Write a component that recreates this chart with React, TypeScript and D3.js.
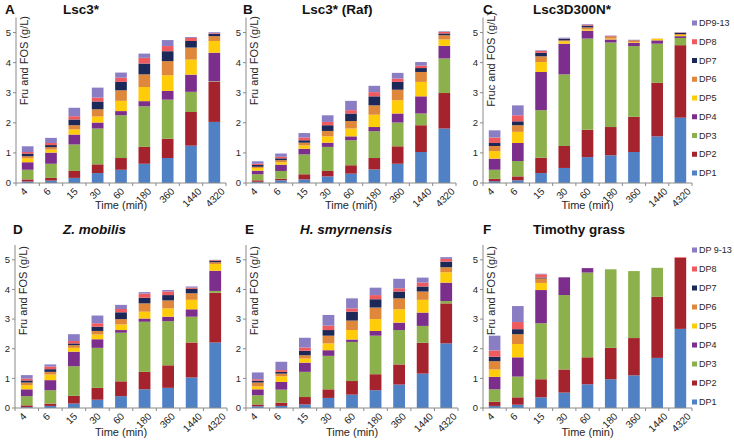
import React from 'react';
import * as d3 from 'd3';

// categories and series
const times = ['4', '6', '15', '30', '60', '180', '360', '1440', '4320'];
const seriesKeys = ['DP1', 'DP2', 'DP3', 'DP4', 'DP5', 'DP6', 'DP7', 'DP8', 'DP9-13'];
const legendLabelsC = ['DP1', 'DP2', 'DP3', 'DP4', 'DP5', 'DP6', 'DP7', 'DP8', 'DP9-13'];
const legendLabelsF = ['DP1', 'DP2', 'DP3', 'DP4', 'DP5', 'DP6', 'DP7', 'DP8', 'DP 9-13'];
const seriesColors = ['#4f81c4', '#a5232d', '#8cb04b', '#7b2e8c', '#ffcc0a', '#df883c', '#1c2857', '#ef5a5e', '#8a7dc4'];
const yTicks = [0, 1, 2, 3, 4, 5];

// g/L per series (rows DP1..DP9-13), per time point (columns)
const lsc3 = [
  [0.05, 0.08, 0.17, 0.33, 0.44, 0.64, 0.83, 1.24, 2.03],
  [0.07, 0.09, 0.23, 0.29, 0.39, 0.56, 0.64, 1.12, 1.33],
  [0.32, 0.47, 0.88, 1.19, 1.42, 1.35, 1.30, 0.67, 0.02],
  [0.25, 0.37, 0.33, 0.20, 0.14, 0.17, 0.29, 0.57, 0.95],
  [0.13, 0.10, 0.17, 0.20, 0.34, 0.47, 0.52, 0.50, 0.39],
  [0.07, 0.08, 0.14, 0.24, 0.35, 0.42, 0.47, 0.40, 0.16],
  [0.09, 0.07, 0.19, 0.26, 0.28, 0.36, 0.33, 0.22, 0.08],
  [0.05, 0.07, 0.11, 0.13, 0.14, 0.19, 0.17, 0.10, 0.02],
  [0.19, 0.17, 0.28, 0.33, 0.17, 0.14, 0.20, 0.03, 0.03],
];

const lsc3Raf = [
  [0.04, 0.09, 0.12, 0.22, 0.31, 0.45, 0.64, 1.03, 1.81],
  [0.05, 0.05, 0.17, 0.18, 0.28, 0.38, 0.58, 0.89, 1.18],
  [0.20, 0.26, 0.66, 0.80, 0.83, 0.89, 0.79, 0.39, 1.15],
  [0.12, 0.21, 0.19, 0.14, 0.13, 0.14, 0.30, 0.57, 0.42],
  [0.09, 0.08, 0.11, 0.21, 0.26, 0.41, 0.44, 0.48, 0.21],
  [0.04, 0.07, 0.09, 0.18, 0.25, 0.31, 0.35, 0.33, 0.14],
  [0.06, 0.06, 0.08, 0.19, 0.25, 0.30, 0.26, 0.13, 0.06],
  [0.04, 0.05, 0.09, 0.11, 0.11, 0.14, 0.11, 0.08, 0.05],
  [0.08, 0.11, 0.15, 0.22, 0.31, 0.21, 0.19, 0.12, 0.02],
];

const lsc3D300N = [
  [0.06, 0.09, 0.33, 0.50, 0.86, 0.92, 1.03, 1.55, 2.17],
  [0.08, 0.13, 0.51, 0.73, 0.91, 0.94, 1.17, 1.78, 2.41],
  [0.30, 0.51, 1.58, 2.38, 3.03, 2.81, 2.35, 1.30, 0.24],
  [0.37, 0.60, 1.27, 1.02, 0.26, 0.10, 0.11, 0.11, 0.06],
  [0.25, 0.37, 0.33, 0.08, 0.04, 0.03, 0.02, 0.05, 0.04],
  [0.17, 0.22, 0.19, 0.03, 0.07, 0.06, 0.05, 0.01, 0.03],
  [0.10, 0.13, 0.12, 0.05, 0.06, 0.01, 0.01, 0.00, 0.04],
  [0.18, 0.20, 0.06, 0.01, 0.03, 0.02, 0.01, 0.00, 0.01],
  [0.24, 0.33, 0.02, 0.03, 0.02, 0.01, 0.01, 0.00, 0.01],
];

const zMobilis = [
  [0.03, 0.07, 0.15, 0.28, 0.40, 0.63, 0.68, 1.03, 2.21],
  [0.06, 0.08, 0.26, 0.40, 0.50, 0.59, 0.76, 1.18, 1.68],
  [0.31, 0.45, 1.00, 1.35, 1.64, 1.69, 1.49, 0.87, 0.06],
  [0.23, 0.34, 0.49, 0.29, 0.09, 0.11, 0.15, 0.25, 0.68],
  [0.14, 0.19, 0.13, 0.16, 0.19, 0.23, 0.28, 0.32, 0.23],
  [0.09, 0.09, 0.09, 0.12, 0.18, 0.28, 0.27, 0.22, 0.06],
  [0.07, 0.09, 0.06, 0.14, 0.23, 0.19, 0.18, 0.15, 0.05],
  [0.06, 0.09, 0.08, 0.12, 0.11, 0.14, 0.12, 0.04, 0.02],
  [0.12, 0.07, 0.23, 0.26, 0.14, 0.05, 0.05, 0.04, 0.01],
];

const hSmyrnensis = [
  [0.06, 0.07, 0.12, 0.34, 0.45, 0.60, 0.79, 1.16, 2.18],
  [0.06, 0.11, 0.25, 0.29, 0.46, 0.54, 0.68, 1.04, 1.35],
  [0.31, 0.44, 0.85, 1.13, 1.32, 1.30, 1.16, 0.57, 0.08],
  [0.20, 0.26, 0.31, 0.19, 0.08, 0.16, 0.25, 0.45, 0.62],
  [0.10, 0.19, 0.14, 0.23, 0.32, 0.40, 0.45, 0.43, 0.35],
  [0.13, 0.09, 0.11, 0.26, 0.32, 0.39, 0.37, 0.28, 0.17],
  [0.06, 0.06, 0.15, 0.19, 0.30, 0.28, 0.23, 0.17, 0.19],
  [0.05, 0.06, 0.11, 0.15, 0.11, 0.14, 0.11, 0.13, 0.09],
  [0.23, 0.28, 0.33, 0.36, 0.34, 0.25, 0.32, 0.17, 0.06],
];

const timothyGrass = [
  [0.07, 0.11, 0.36, 0.52, 0.80, 0.97, 1.10, 1.69, 2.67],
  [0.14, 0.25, 0.61, 0.78, 0.91, 1.06, 1.26, 2.06, 2.40],
  [0.42, 0.70, 1.89, 2.51, 2.86, 2.65, 2.26, 0.98, 0.00],
  [0.42, 0.65, 1.12, 0.60, 0.15, 0.00, 0.00, 0.00, 0.00],
  [0.25, 0.45, 0.24, 0.00, 0.00, 0.00, 0.00, 0.00, 0.00],
  [0.28, 0.33, 0.15, 0.00, 0.00, 0.00, 0.00, 0.00, 0.00],
  [0.15, 0.17, 0.03, 0.00, 0.00, 0.00, 0.00, 0.00, 0.00],
  [0.21, 0.24, 0.11, 0.00, 0.00, 0.00, 0.00, 0.00, 0.02],
  [0.50, 0.54, 0.02, 0.00, 0.00, 0.00, 0.00, 0.00, 0.00],
];

const FONT = '"Liberation Sans", Arial, sans-serif';
const AXIS = '#8a8a8a';
const TXT = '#262626';

type PanelDef = {
  data: number[][];
  letter: string;
  title: string;
  italic?: boolean;
  yLabel: string;
  x0: number;
  w: number;
  base: number;
  top: number;
  letterX: number;
  titleX: number;
  titleY: number;
  labelEnd: number;
  timeY: number;
  legend?: { labels: string[]; y0: number; gap: number };
};

const panels: PanelDef[] = [
  { data: lsc3, letter: 'A', title: 'Lsc3*', yLabel: 'Fru and FOS (g/L)', x0: 16, w: 210, base: 183, top: 17.5, letterX: 5, titleX: 63, titleY: 14, labelEnd: 16, timeY: 209 },
  { data: lsc3Raf, letter: 'B', title: 'Lsc3* (Raf)', yLabel: 'Fru and FOS (g/L)', x0: 246, w: 210, base: 183, top: 17.5, letterX: 243, titleX: 302, titleY: 14, labelEnd: 16, timeY: 209 },
  { data: lsc3D300N, letter: 'C', title: 'Lsc3D300N*', yLabel: 'Fruc and FOS (g/L)', x0: 483, w: 209, base: 183, top: 17.5, letterX: 483, titleX: 533, titleY: 14, labelEnd: 12, timeY: 209,
    legend: { labels: legendLabelsC, y0: 173, gap: 18.75 } },
  { data: zMobilis, letter: 'D', title: 'Z. mobilis', italic: true, yLabel: 'Fru and FOS (g/L)', x0: 15, w: 212, base: 408, top: 245, letterX: 13, titleX: 63, titleY: 234, labelEnd: 246, timeY: 436 },
  { data: hSmyrnensis, letter: 'E', title: 'H. smyrnensis', italic: true, yLabel: 'Fru and FOS (g/L)', x0: 246, w: 212, base: 408, top: 245, letterX: 245, titleX: 300, titleY: 234, labelEnd: 246, timeY: 436 },
  { data: timothyGrass, letter: 'F', title: 'Timothy grass', yLabel: 'Fru and FOS (g/L)', x0: 483, w: 209, base: 408, top: 245, letterX: 483, titleX: 533, titleY: 234, labelEnd: 246, timeY: 436,
    legend: { labels: legendLabelsF, y0: 402, gap: 19 } },
];

function Panel({ p }: { p: PanelDef }) {
  const x = d3.scaleBand<string>().domain(times).range([p.x0, p.x0 + p.w]).paddingInner(0.5).paddingOuter(0.25);
  const y = d3.scaleLinear().domain([0, 5.5]).range([p.base, p.top]);
  const step = x.step();

  const rows = times.map((t, i) => {
    const r: any = { time: t };
    seriesKeys.forEach((k, s) => (r[k] = p.data[s][i]));
    return r;
  });
  const stacked = d3.stack<any>().keys(seriesKeys)(rows);

  return (
    <g>
      {/* bars */}
      {stacked.map((layer, s) => (
        <g key={layer.key} fill={seriesColors[s]}>
          {layer.map((d, i) => {
            const h = y(d[0]) - y(d[1]);
            if (h <= 0) return null;
            return <rect key={i} x={x(times[i])} y={y(d[1])} width={x.bandwidth()} height={h} />;
          })}
        </g>
      ))}

      {/* y axis */}
      <line x1={p.x0} x2={p.x0} y1={p.base} y2={p.top} stroke={AXIS} />
      {yTicks.map((t) => (
        <g key={t}>
          <line x1={p.x0 - 3} x2={p.x0} y1={y(t)} y2={y(t)} stroke={AXIS} />
          <text x={p.x0 - 5} y={y(t)} dy="0.35em" textAnchor="end" fontSize={9.5} fill={TXT}>{t}</text>
        </g>
      ))}

      {/* x axis */}
      <line x1={p.x0} x2={p.x0 + p.w} y1={p.base} y2={p.base} stroke={AXIS} />
      {d3.range(times.length + 1).map((i) => (
        <line key={i} x1={p.x0 + i * step} x2={p.x0 + i * step} y1={p.base} y2={p.base + 3} stroke={AXIS} />
      ))}
      {times.map((t) => {
        const cx = (x(t) as number) + x.bandwidth() / 2;
        const w = t.length * 5.6;
        const lx = cx + (t.length - 3.5) * 1.6;
        const ly = p.base + 4 + (w + 7) * 0.354;
        return (
          <g key={t} transform={`translate(${lx},${ly})`}>
            <text transform="rotate(-45)" textAnchor="middle" dy="0.35em" fontSize={10} fill={TXT}>{t}</text>
          </g>
        );
      })}
      <text x={p.x0 + p.w / 2} y={p.timeY} textAnchor="middle" fontSize={11} fill={TXT}>Time (min)</text>

      {/* y label */}
      <text transform={`translate(${p.x0 + 12},${p.labelEnd}) rotate(-90)`} textAnchor="end" fontSize={11} fill={TXT}>{p.yLabel}</text>

      {/* titles */}
      <text x={p.letterX} y={p.titleY} fontSize={13.5} fontWeight="bold" fill="#111">{p.letter}</text>
      <text x={p.titleX} y={p.titleY} fontSize={13.5} fontWeight="bold" fontStyle={p.italic ? 'italic' : 'normal'} fill="#111">{p.title}</text>

      {/* legend */}
      {p.legend && p.legend.labels.map((l, s) => {
        const ly = p.legend!.y0 - s * p.legend!.gap;
        return (
          <g key={l}>
            <rect x={692} y={ly - 2.5} width={5} height={5} fill={seriesColors[s]} />
            <text x={699} y={ly} dy="0.35em" fontSize={9} fill={TXT}>{l}</text>
          </g>
        );
      })}
    </g>
  );
}

export default function App() {
  return (
    <svg width={734} height={440} style={{ position: 'absolute', left: 0, top: 0, background: '#fff' }} fontFamily={FONT}>
      {panels.map((p) => (
        <Panel key={p.letter} p={p} />
      ))}
    </svg>
  );
}
